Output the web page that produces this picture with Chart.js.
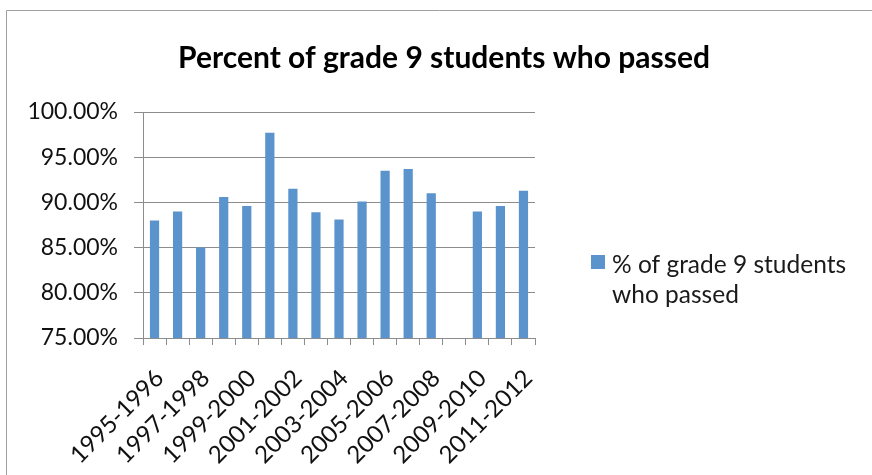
<!DOCTYPE html>
<html>
<head>
<meta charset="utf-8">
<script src="https://cdn.jsdelivr.net/npm/chart.js@4.4.0/dist/chart.umd.min.js"></script>
<style>
  html, body { margin: 0; padding: 0; background: #fff; }
  #wrap { width: 872px; height: 475px; position: relative; }
</style>
</head>
<body>
<div id="wrap"><canvas id="myChart" width="872" height="475"></canvas></div>
<script>
const seasons = [
    '1995-1996', '1996-1997', '1997-1998', '1998-1999', '1999-2000',
    '2000-2001', '2001-2002', '2002-2003', '2003-2004', '2004-2005',
    '2005-2006', '2006-2007', '2007-2008', '2008-2009', '2009-2010',
    '2010-2011', '2011-2012'
];
const passed = [
    88.0, 89.0, 85.0, 90.6, 89.6,
    97.7, 91.5, 88.9, 88.1, 90.1,
    93.5, 93.7, 91.0, null, 89.0,
    89.6, 91.3
];
const yTicks = [75, 80, 85, 90, 95, 100];

const chartTitle = 'Percent of grade 9 students who passed';
const seriesName = ['% of grade 9 students', 'who passed'];

const barColor = '#5b93cc';
const gridColor = '#8c8c8c';
const fontName = 'Lato, "Open Sans", sans-serif';

// frame, title and the two-line legend are painted by hand
const decorations = {
    id: 'decorations',
    beforeDraw(chart) {
        const ctx = chart.ctx;
        ctx.save();
        ctx.fillStyle = '#fff';
        ctx.fillRect(0, 0, chart.width, chart.height);
        ctx.strokeStyle = '#a0a0a0';
        ctx.lineWidth = 1;
        ctx.beginPath();
        ctx.moveTo(6.5, chart.height);
        ctx.lineTo(6.5, 10.5);
        ctx.lineTo(chart.width, 10.5);
        ctx.stroke();
        ctx.restore();
    },
    afterDraw(chart) {
        const ctx = chart.ctx;
        ctx.save();
        ctx.fillStyle = '#000';
        ctx.textAlign = 'center';
        ctx.textBaseline = 'middle';
        ctx.font = 'bold 30px ' + fontName;
        ctx.fillText(chartTitle, 444, 58);

        ctx.fillStyle = barColor;
        ctx.fillRect(591, 255, 14, 14);
        ctx.fillStyle = '#1a1a1a';
        ctx.textAlign = 'left';
        ctx.font = '24.5px ' + fontName;
        seriesName.forEach((line, i) => {
            ctx.fillText(line, 612, 265 + i * 30);
        });
        ctx.restore();
    }
};

const ctx = document.getElementById('myChart').getContext('2d');
const myChart = new Chart(ctx, {
    type: 'bar',
    data: {
        labels: seasons,
        datasets: [{
            label: seriesName.join(' '),
            data: passed,
            backgroundColor: barColor,
            borderWidth: 0,
            categoryPercentage: 1,
            barPercentage: 0.4
        }]
    },
    options: {
        responsive: false,
        animation: false,
        layout: { padding: { top: 112, right: 337, left: 0, bottom: 0 } },
        plugins: {
            legend: { display: false },
            title: { display: false },
            tooltip: { enabled: false }
        },
        scales: {
            x: {
                offset: true,
                grid: {
                    offset: true,
                    drawOnChartArea: false,
                    drawTicks: true,
                    tickLength: 7,
                    color: gridColor
                },
                border: { color: gridColor },
                ticks: {
                    autoSkip: false,
                    minRotation: 45,
                    maxRotation: 45,
                    padding: 19,
                    labelOffset: 5,
                    color: '#111',
                    font: { family: fontName, size: 24 },
                    callback: (val, i) => i % 2 === 0 ? seasons[i] : ''
                },
                afterFit: scale => { scale.height = 137; }
            },
            y: {
                min: yTicks[0],
                max: yTicks[yTicks.length - 1],
                afterBuildTicks: scale => {
                    scale.ticks = yTicks.map(v => ({ value: v }));
                },
                grid: {
                    color: gridColor,
                    tickLength: 9
                },
                border: { color: gridColor },
                ticks: {
                    padding: 16,
                    color: '#111',
                    font: { family: fontName, size: 23 },
                    callback: v => v.toFixed(2) + '%'
                },
                afterFit: scale => { scale.width = 143; }
            }
        }
    },
    plugins: [decorations]
});
</script>
</body>
</html>
